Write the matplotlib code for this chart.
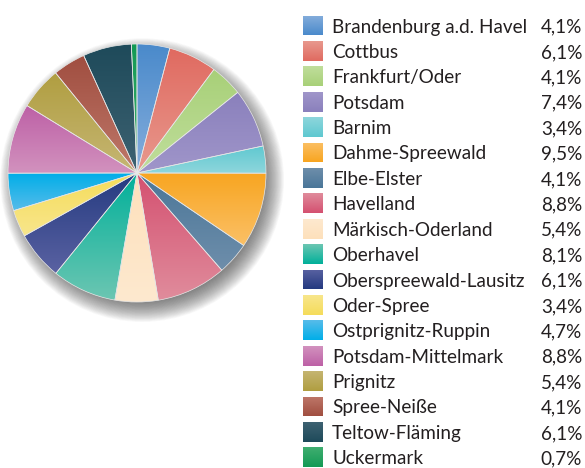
import numpy as np
import matplotlib
matplotlib.use("Agg")
import matplotlib.pyplot as plt
from matplotlib.colors import LinearSegmentedColormap, to_rgb
from matplotlib.patches import Circle

categories = ["Brandenburg a.d. Havel", "Cottbus", "Frankfurt/Oder", "Potsdam", "Barnim",
              "Dahme-Spreewald", "Elbe-Elster", "Havelland", "Märkisch-Oderland", "Oberhavel",
              "Oberspreewald-Lausitz", "Oder-Spree", "Ostprignitz-Ruppin", "Potsdam-Mittelmark",
              "Prignitz", "Spree-Neiße", "Teltow-Fläming", "Uckermark"]
values = [4.1, 6.1, 4.1, 7.4, 3.4, 9.5, 4.1, 8.8, 5.4, 8.1, 6.1, 3.4, 4.7, 8.8, 5.4, 4.1, 6.1, 0.7]
colors_dark = ["#4a8acb", "#e06a60", "#a8d078", "#8a80bc", "#5ec8d0", "#f8a520", "#4a7698",
               "#d45070", "#fde0bb", "#00b09a", "#243a80", "#f5dc5a", "#00aee8", "#bd60a6",
               "#b09e40", "#a04e40", "#1e4a5a", "#139a55"]
colors_light = ["#86aedc", "#e8998e", "#c0de9c", "#a096ca", "#8ed6dc", "#fbc066", "#6e8eab",
                "#e08c9c", "#fee9cf", "#6cc6b2", "#5a62a2", "#f8e68c", "#58bcea", "#d292be",
                "#c6b674", "#bf786a", "#3e6272", "#40ae70"]

W, H = 585, 468
fig = plt.figure(figsize=(W / 100, H / 100), dpi=100)
fig.patch.set_facecolor("white")

cx, cy, r = 137, 173, 129
m = 1.25
R = r * m
ax = fig.add_axes([(cx - R) / W, (H - cy - R) / H, 2 * R / W, 2 * R / H])

# soft shadow behind pie (stack of translucent discs)
nsh = 32
for k in range(nsh):
    ax.add_patch(Circle((0.04, -0.055), 0.92 + 0.0058 * k, facecolor="#404040",
                        edgecolor="none", alpha=0.033, zorder=0.5))

wedges, _ = ax.pie(values, startangle=90, counterclock=False, radius=1,
                   colors=colors_dark,
                   wedgeprops=dict(edgecolor="#e8e8e8", linewidth=0.5, zorder=2))
grad = np.linspace(0, 1, 256).reshape(-1, 1)
for w, c1, c2 in zip(wedges, colors_dark, colors_light):
    cmap = LinearSegmentedColormap.from_list("g", [to_rgb(c1), to_rgb(c2)])
    bb = w.get_path().get_extents()
    im = ax.imshow(grad, cmap=cmap, extent=[bb.x0, bb.x1, bb.y0, bb.y1],
                   aspect="auto", zorder=1.5, interpolation="bilinear")
    im.set_clip_path(w)
    w.set_facecolor("none")
ax.set_xlim(-m, m)
ax.set_ylim(-m, m)
ax.set_aspect("equal")
ax.axis("off")

# legend
font = "Lato"
row0, step = 25.5, 25.4
for i, (lab, v, c1, c2) in enumerate(zip(categories, values, colors_dark, colors_light)):
    yc = row0 + i * step
    lax = fig.add_axes([303 / W, (H - yc - 10) / H, 20 / W, 20 / H])
    cmap = LinearSegmentedColormap.from_list("g", [to_rgb(c2), to_rgb(c1)])
    lax.imshow(grad, cmap=cmap, aspect="auto", extent=[0, 1, 0, 1], interpolation="bilinear")
    lax.axis("off")
    fig.text(332 / W, (H - yc) / H, lab, fontsize=13.6, family=font, color="#231f20",
             ha="left", va="center_baseline")
    fig.text(582 / W, (H - yc) / H, f"{v:.1f}".replace(".", ",") + "%", fontsize=13.6,
             family=font, color="#231f20", ha="right", va="center_baseline")

fig.savefig("out.png", dpi=100, facecolor="white")
